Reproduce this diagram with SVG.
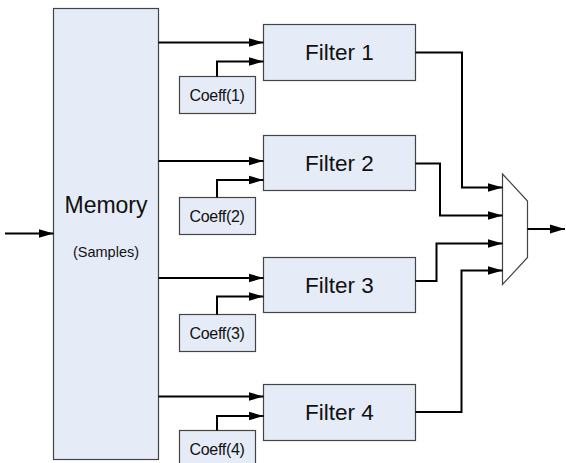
<svg xmlns="http://www.w3.org/2000/svg" width="566" height="463" viewBox="0 0 566 463">
<style>
.box{fill:#E6ECF7;stroke:#444;stroke-width:1.2}
.mux{fill:#fff;stroke:#444;stroke-width:1.2}
.t{font-family:"Liberation Sans",Arial,sans-serif;fill:#111;text-anchor:middle}
.big{font-size:22.5px}
.sm{font-size:16px;letter-spacing:-0.3px}
.w{fill:none;stroke:#000;stroke-width:2;marker-end:url(#ah)}
</style>
<defs>
<marker id="ah" markerUnits="userSpaceOnUse" markerWidth="15" markerHeight="10" refX="15" refY="5" orient="auto">
<path d="M0,0.5 L15,5 L0,9.5 z" fill="#000"/>
</marker>
</defs>
<g id="memory"><rect class="box" x="53.5" y="8.5" width="105" height="451"/><text class="t" x="106" y="213" font-size="23">Memory</text><text class="t" x="106" y="257" font-size="14.5">(Samples)</text></g>
<g id="filter1"><rect class="box" x="263.5" y="24.5" width="152" height="56"/><text class="t big" x="339.5" y="59.5">Filter 1</text></g>
<g id="filter2"><rect class="box" x="263.5" y="135.5" width="152" height="55"/><text class="t big" x="339.5" y="170.5">Filter 2</text></g>
<g id="filter3"><rect class="box" x="263.5" y="257.5" width="152" height="55"/><text class="t big" x="339.5" y="292.5">Filter 3</text></g>
<g id="filter4"><rect class="box" x="263.5" y="384.5" width="152" height="56"/><text class="t big" x="339.5" y="419.5">Filter 4</text></g>
<g id="coeff1"><rect class="box" x="179.5" y="76.5" width="76" height="37"/><text class="t sm" x="217" y="100.5">Coeff(1)</text></g>
<g id="coeff2"><rect class="box" x="179.5" y="197.5" width="76" height="37"/><text class="t sm" x="217" y="221.5">Coeff(2)</text></g>
<g id="coeff3"><rect class="box" x="179.5" y="314.5" width="76" height="37"/><text class="t sm" x="217" y="338.5">Coeff(3)</text></g>
<g id="coeff4"><rect class="box" x="179.5" y="430.5" width="76" height="37"/><text class="t sm" x="217" y="454.5">Coeff(4)</text></g>
<g id="mux"><path class="mux" d="M502.5,174 L527.5,201 L527.5,257.5 L502.5,284.5 Z"/></g>
<g id="connectors">
<path class="w" d="M5,233.5 L53.5,233.5"/>
<path class="w" d="M158.5,42.5 L263.5,42.5"/>
<path class="w" d="M158.5,161 L263.5,161"/>
<path class="w" d="M158.5,278 L263.5,278"/>
<path class="w" d="M158.5,396.5 L263.5,396.5"/>
<path class="w" d="M217,76.5 L217,61.5 L263.5,61.5"/>
<path class="w" d="M217,197.5 L217,180 L263.5,180"/>
<path class="w" d="M217,314.5 L217,296.5 L263.5,296.5"/>
<path class="w" d="M217,430.5 L217,416 L263.5,416"/>
<path class="w" d="M415.5,52.5 L462,52.5 L462,187.5 L502.5,187.5"/>
<path class="w" d="M415.5,163.5 L440,163.5 L440,215.5 L502.5,215.5"/>
<path class="w" d="M415.5,281 L436.5,281 L436.5,243.5 L502.5,243.5"/>
<path class="w" d="M415.5,412 L461.5,412 L461.5,270.5 L502.5,270.5"/>
<path class="w" d="M527.5,229 L565,229"/>
</g>
</svg>
